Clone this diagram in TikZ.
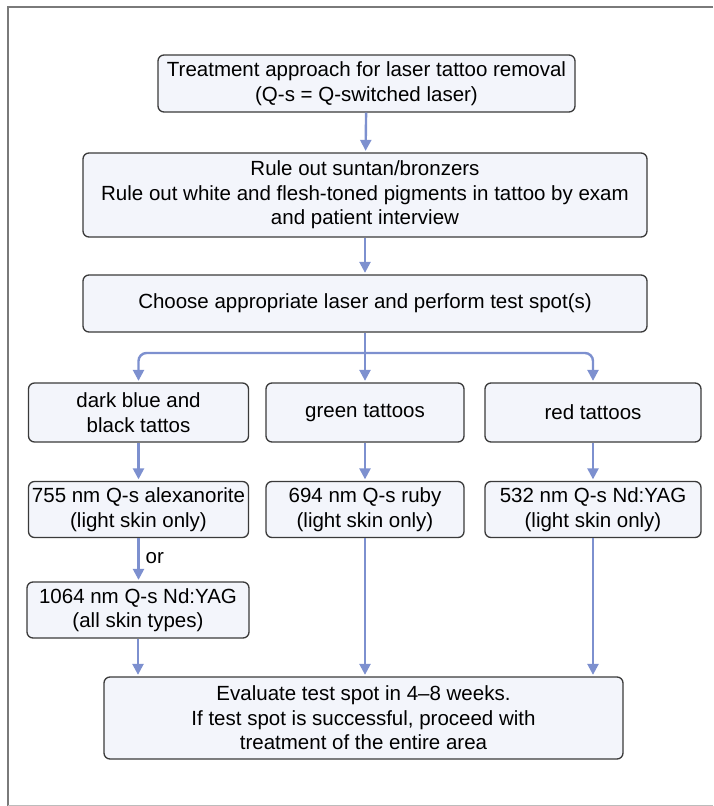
\documentclass[tikz,border=0pt]{standalone}
\usepackage{fontspec}
\setmainfont{Liberation Sans}
\usetikzlibrary{arrows.meta}
\definecolor{arrowblue}{HTML}{7D90CF}
\definecolor{boxfill}{HTML}{F3F5FB}
\definecolor{boxline}{HTML}{3A3A3A}
\definecolor{framegray}{HTML}{7A7A7A}
\tikzset{
  flowbox/.style={draw=boxline, line width=1.3pt, fill=boxfill, rounded corners=6pt,
    inner sep=0pt, align=center, font=\fontsize{20.5}{24.5}\selectfont},
  arr/.style={draw=arrowblue, line width=2.4pt,
    -{Triangle[length=11pt,width=11pt]}, shorten >=1.5pt},
  framestyle/.style={draw=framegray, line width=2pt},
  lbl/.style={font=\fontsize{20.5}{24.5}\selectfont, inner sep=0pt}
}
\begin{document}
\begin{tikzpicture}[x=1pt,y=-1pt]
\useasboundingbox (0,0) rectangle (713,806);
% frame
\draw[framestyle] (713,7) -- (8,7) -- (8,806);
\draw[draw=framegray!50, line width=1pt] (8,805) -- (713,805);

% boxes
\node[flowbox, minimum width=417pt, minimum height=57pt] (start) at (366.5,83.5)
  {Treatment approach for laser tattoo removal\\(Q-s = Q-switched laser)};
\node[flowbox, minimum width=564pt, minimum height=84pt] (rule) at (365,195)
  {Rule out suntan/bronzers\\Rule out white and flesh-toned pigments in tattoo by exam\\and patient interview};
\node[flowbox, minimum width=564pt, minimum height=57pt] (choose) at (365,303.5)
  {Choose appropriate laser and perform test spot(s)};

\node[flowbox, minimum width=220pt, minimum height=59pt] (dark) at (138.5,412.5)
  {dark blue and\\black tattos};
\node[flowbox, minimum width=198pt, minimum height=59pt] (green) at (365,412.5)
  {green tattoos};
\node[flowbox, minimum width=216pt, minimum height=59pt] (red) at (593,412.5)
  {red tattoos};

\node[flowbox, minimum width=220pt, minimum height=56pt] (alex) at (138.5,509.5)
  {755 nm Q-s alexanorite\\(light skin only)};
\node[flowbox, minimum width=198pt, minimum height=56pt] (ruby) at (365,509.5)
  {694 nm Q-s ruby\\(light skin only)};
\node[flowbox, minimum width=216pt, minimum height=56pt] (ndyag) at (593,509.5)
  {532 nm Q-s Nd:YAG\\(light skin only)};

\node[flowbox, minimum width=222pt, minimum height=56pt] (nd1064) at (138,610)
  {1064 nm Q-s Nd:YAG\\(all skin types)};

\node[flowbox, minimum width=519pt, minimum height=82pt] (eval) at (363.5,718)
  {Evaluate test spot in 4--8 weeks.\\If test spot is successful, proceed with\\treatment of the entire area};

% connectors
\draw[arr] (start) -- (rule);
\draw[arr] (rule) -- (choose);
\coordinate (branch) at (365,353);
\draw[arr] (choose) -- (green);
\draw[arr, rounded corners=8pt] (branch) -| (dark.north);
\draw[arr, rounded corners=8pt] (branch) -| (red.north);

\draw[arr] (dark) -- (alex);
\draw[arr] (green) -- (ruby);
\draw[arr] (red) -- (ndyag);

\draw[arr] (alex.south) -- node[lbl, right=6pt, pos=0.45] (or) {or} (nd1064.north -| alex.south);

\draw[arr] (nd1064.south) -- (nd1064.south |- eval.north);
\draw[arr] (ruby.south) -- (ruby.south |- eval.north);
\draw[arr] (ndyag.south) -- (ndyag.south |- eval.north);
\end{tikzpicture}
\end{document}
